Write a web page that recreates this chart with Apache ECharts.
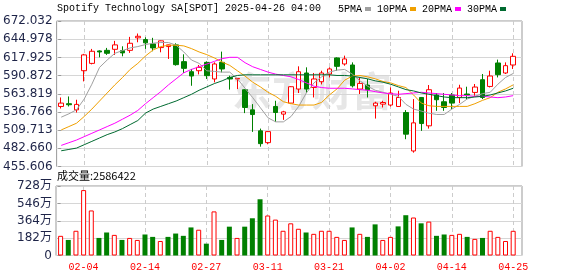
<!DOCTYPE html>
<html>
<head>
<meta charset="utf-8">
<script src="https://cdn.jsdelivr.net/npm/echarts@6/dist/echarts.min.js"></script>
<style>
html,body{margin:0;padding:0;background:#fff}
#chart{width:578px;height:276px}
</style>
</head>
<body>
<div id="chart"></div>
<script>
// trading days shown (MM-DD)
const dates = ['01-30','01-31','02-03','02-04','02-05','02-06','02-07','02-10','02-11','02-12',
  '02-13','02-14','02-18','02-19','02-20','02-21','02-24','02-25','02-26','02-27',
  '02-28','03-03','03-04','03-05','03-06','03-07','03-10','03-11','03-12','03-13',
  '03-14','03-17','03-18','03-19','03-20','03-21','03-24','03-25','03-26','03-27',
  '03-28','03-31','04-01','04-02','04-03','04-04','04-07','04-08','04-09','04-10',
  '04-11','04-14','04-15','04-16','04-17','04-21','04-22','04-23','04-24','04-25'];
const tickIdx = [3, 11, 19, 27, 35, 43, 51, 59];

const opens = [544.9,549.0,539.9,598.1,609.0,627.5,628.4,629.9,628.0,628.4,
  647.0,644.4,638.0,632.5,634.0,636.5,611.6,596.6,598.1,610.5,
  585.8,610.5,588.1,585.8,569.8,539.9,508.6,491.1,544.9,533.5,
  549.9,570.8,594.7,573.2,581.7,593.2,617.1,608.1,606.6,570.8,
  576.8,545.9,548.4,547.0,544.9,535.9,478.7,558.3,516.1,561.9,
  551.9,561.9,558.3,563.4,565.8,584.7,574.7,609.6,594.7,606.6];
const closes = [549.9,547.5,548.0,621.6,627.0,626.0,624.0,636.5,624.6,638.9,
  649.3,639.5,632.0,642.5,636.5,607.1,601.6,590.2,603.1,590.7,
  608.1,600.7,585.8,586.6,543.4,532.9,489.6,507.5,535.9,536.9,
  574.3,596.6,570.8,585.8,594.7,600.7,604.6,615.6,575.7,579.2,
  569.8,549.9,550.8,564.9,558.3,503.7,520.5,519.5,569.8,554.9,
  543.4,549.9,572.3,561.9,573.8,558.3,590.2,592.2,605.6,619.5];
const lows = [541.9,544.9,535.9,582.2,607.5,618.0,621.6,621.6,619.5,624.6,
  640.4,630.5,627.0,625.5,615.6,605.6,594.7,575.7,592.6,585.8,
  580.7,595.6,570.0,570.8,535.0,507.1,485.1,488.7,522.0,525.0,
  548.4,564.9,564.9,558.3,577.7,588.1,598.1,605.6,573.2,563.4,
  558.3,526.9,543.4,544.9,544.5,496.2,476.2,508.6,512.0,538.4,
  538.4,540.9,549.9,554.9,560.8,555.9,573.2,588.1,593.2,600.7];
const highs = [558.3,559.8,554.9,623.1,630.5,628.5,632.0,642.5,634.4,648.4,
  653.4,647.8,647.0,643.0,637.0,638.9,622.5,600.7,606.6,612.0,
  610.5,626.5,590.7,587.0,570.5,548.4,512.0,508.0,553.4,538.4,
  575.0,604.6,603.1,594.7,598.1,603.1,618.0,620.5,610.5,588.1,
  585.8,551.9,553.4,573.2,568.3,539.5,555.9,559.0,576.8,564.9,
  564.9,564.9,577.2,574.3,578.3,593.2,598.1,614.6,610.5,624.0];
const volumes = [2060000,1630000,2590000,6850000,4720000,1840000,2410000,2160000,1630000,1840000,
  1630000,2200000,1950000,1520000,1950000,2300000,2060000,2940000,2700000,1240000,
  4620000,1630000,3020000,1840000,3020000,3900000,5890000,4190000,3760000,2590000,
  3370000,2800000,2410000,2270000,2590000,2590000,1950000,1630000,2940000,2270000,
  1950000,3260000,1630000,1950000,3050000,4220000,3980000,3370000,3550000,2060000,
  2200000,2160000,2270000,1950000,1740000,1840000,2590000,1950000,1520000,2586422];

const ma5 = [529,534,540,556,578,603,614,624,628,632,
  634,637,639,640,640,636,626,614,609,598,
  597,596,596,586,572,558,543,528,522,522,
  530,545,565,580,589,596,599,600,593,583,
  575,569,566,563,560,548,541,538,535,533,
  533,541,548,556,560,564,566,578,588,594];
const ma10 = [510,515,520,530,541,553,565,577,588,600,
  609,620,629,634,636,636,635,631,626,622,
  617,611,606,598,590,581,574,566,560,552,
  549,547,547,547,551,562,571,584,590,591,
  589,586,582,580,576,573,562,550,546,545,
  545,545,545,545,549,554,558,566,571,577];
const ma20 = [487,491,495,500,505,510,515,520,526,532,
  539,549,558,567,577,586,595,600,604,608,
  612,616,618,618,610,604,600,596,593,591,
  589,585,580,575,573,572,572,572,571,570,
  569,567,565,564,563,564,565,566,565,564,
  563,562,561,561,560,560,559,558,559,561];
const ma30 = [479,481,483,488,493,498,503,507,512,518,
  524,535,541,545,549,553,558,563,569,574,
  579,583,588,591,592,592,592,592,592,592,
  592,592,592,592,592,592,591,591,590,588,
  586,583,581,578,574,570,568,565,563,561,
  559,558,558,558,559,560,562,565,568,572];

const priceTicks = [455.606,482.660,509.713,536.766,563.819,590.872,617.925,644.978,672.032];
const volTicks = [0,1820000,3640000,5460000,7280000];

const RED = '#ff0000', GREEN = '#008000', AXIS_TXT = '#1e2448';

function xAxis(grid, withLabels){
  return {
    type:'value', gridIndex:grid, min:-0.6, max:60.15,
    axisLine:{show:false},
    axisTick:{show:false, customValues:tickIdx},
    axisLabel:{show:withLabels, customValues:tickIdx, formatter:v=>dates[v],
      color:RED, fontFamily:'Liberation Mono', fontSize:10, margin:7},
    splitLine:{show:true, lineStyle:{color:'#cccccc', type:[4,3], width:1}}
  };
}
function yAxis(grid, min, max, ticks, fmt){
  return {
    type:'value', gridIndex:grid, min, max,
    axisLine:{show:false},
    axisTick:{show:true, length:3, customValues:ticks, lineStyle:{color:'#999'}},
    axisLabel:{customValues:ticks, formatter:fmt, color:AXIS_TXT,
      fontFamily:'DejaVu Sans, "Noto Sans CJK SC"', fontSize:12, margin:4},
    splitLine:{show:true, lineStyle:{color:'#d6d6d6', width:1}}
  };
}
function ma(name, vals, color){
  return {name, type:'line', xAxisIndex:0, yAxisIndex:0, color,
    data:vals.map((v,i)=>[i,v]), symbol:'none', showSymbol:false, z:5,
    lineStyle:{color, width:1}};
}

const chart = echarts.init(document.getElementById('chart'));
chart.setOption({
  animation:false,
  backgroundColor:'#fff',
  grid:[
    {left:56, right:56, top:21, height:145.5, show:true, borderColor:'#999', borderWidth:1},
    {left:56, right:56, top:186, height:69.5, show:true, borderColor:'#999', borderWidth:1}
  ],
  legend:{
    data:['5PMA','10PMA','20PMA','30PMA'], left:338, top:4, padding:0,
    align:'right', icon:'rect', itemWidth:6, itemHeight:4, itemGap:6, selectedMode:false,
    textStyle:{fontFamily:'Liberation Mono', fontSize:10, color:'#000', padding:[0,-2,0,0]}
  },
  graphic:[
    {type:'text', left:57, top:3, z:10,
      style:{text:'Spotify Technology SA[SPOT] 2025-04-26 04:00', font:'10px "Liberation Mono"', fill:'#000'}},
    {type:'text', left:57, top:170, z:10,
      style:{text:'成交量:' + volumes[volumes.length-1], font:'11px "Noto Sans CJK SC"', fill:'#000'}},
    {type:'text', left:232, top:71, z:-1, silent:true,
      style:{text:'东方财富', font:'bold 40px "Noto Sans CJK SC"', fill:'#e6e6e6'}}
  ],
  xAxis:[xAxis(0,false), xAxis(1,true)],
  yAxis:[
    yAxis(0, 455.606, 672.032, priceTicks, v=>v.toFixed(3)),
    yAxis(1, 0, 7280000, volTicks, v=>v===0 ? '0' : Math.round(v/10000)+'万')
  ],
  series:[
    {type:'candlestick', xAxisIndex:0, yAxisIndex:0, barWidth:5,
      dimensions:['x','open','close','lowest','highest'],
      encode:{x:'x', y:['open','close','lowest','highest']},
      data:opens.map((o,i)=>[i,o,closes[i],lows[i],highs[i]]),
      itemStyle:{color:'#fff', color0:GREEN, borderColor:RED, borderColor0:GREEN, borderWidth:1}},
    ma('5PMA', ma5, '#a0a0a0'),
    ma('10PMA', ma10, '#f0a000'),
    ma('20PMA', ma20, '#ff00ff'),
    ma('30PMA', ma30, '#006a30'),
    {type:'bar', xAxisIndex:1, yAxisIndex:1, barWidth:5,
      data:volumes.map((v,i)=>{
        const up = i===0 ? closes[i]>=opens[i] : closes[i]>=closes[i-1];
        return {value:[i,v], itemStyle: up ? {color:'#fff', borderColor:RED, borderWidth:1} : {color:GREEN}};
      })}
  ]
});
</script>
</body>
</html>
